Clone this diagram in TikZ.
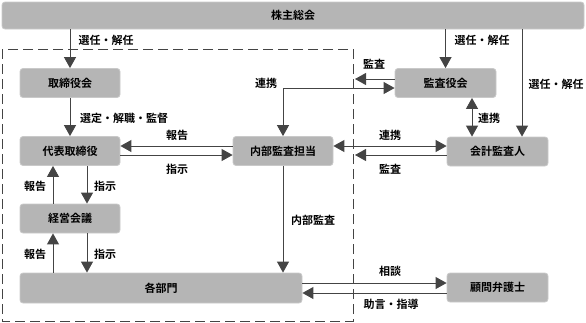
\documentclass[tikz,border=0pt]{standalone}
\usepackage{fontspec}
\setmainfont{Noto Sans CJK JP}[BoldFont={* Bold}]
\usetikzlibrary{arrows.meta}
\definecolor{boxfill}{HTML}{B5B5B5}
\definecolor{boxedge}{HTML}{C9C9C9}
\definecolor{linec}{HTML}{444444}
\tikzset{
  box/.style={draw=boxedge, fill=boxfill, rounded corners=3pt, line width=0.8pt,
    font=\bfseries\fontsize{11}{12}\selectfont, text=black, inner sep=0pt},
  lbl/.style={font=\bfseries\fontsize{11}{12}\selectfont, text=black, inner sep=0pt},
  arr/.style={draw=linec, line width=0.9pt, -{Triangle[length=11pt,width=12pt]}},
  darr/.style={draw=linec, line width=0.9pt, {Triangle[length=11pt,width=12pt]}-{Triangle[length=11pt,width=12pt]}},
  frame/.style={draw=linec, line width=0.8pt, dash pattern=on 10pt off 5pt}
}
\begin{document}
\begin{tikzpicture}[x=1pt,y=-1pt]
\useasboundingbox (0,0) rectangle (586,322);
\draw[frame] (2,49) rectangle (353,321);
\node[box, minimum width=582pt, minimum height=27pt] (top) at (293,15.5) {株主総会};
\node[box, minimum width=100pt, minimum height=29pt] (tb) at (70,83) {取締役会};
\node[box, minimum width=100pt, minimum height=29pt] (dh) at (70,151) {代表取締役};
\node[box, minimum width=100pt, minimum height=29pt] (kk) at (70,218.5) {経営会議};
\node[box, minimum width=282pt, minimum height=30pt] (bm) at (161,288) {各部門};
\node[box, minimum width=100pt, minimum height=29pt] (nb) at (283,151) {内部監査担当};
\node[box, minimum width=101pt, minimum height=29pt] (ky) at (445.5,83) {監査役会};
\node[box, minimum width=101pt, minimum height=29pt] (kj) at (497.5,151.5) {会計監査人};
\node[box, minimum width=101pt, minimum height=29pt] (kb) at (497.5,287.5) {顧問弁護士};
\coordinate (fr1) at (355,79);
\coordinate (fr2) at (355,155);
% arrows
\draw[arr] (top.south -| tb.south) -- (tb.north);
\draw[arr] (top.south -| ky.south) -- (ky.north);
\draw[arr] (top.south -| 522,0) -- (kj.north -| 522,0);
\draw[arr] (tb.south) -- (dh.north);
\draw[arr] (nb.west |- 0,146) -- (dh.east |- 0,146);
\draw[arr] (dh.east |- 0,155) -- (nb.west |- 0,155);
\draw[darr] (ky.west |- 0,88) -| (nb.north);
\draw[arr] (ky.west |- fr1) -- (fr1);
\draw[darr] (ky.south -| 472,0) -- (kj.north -| 472,0);
\draw[darr] (nb.east |- 0,146) -- (kj.west |- 0,146);
\draw[arr] (kj.west |- fr2) -- (fr2);
\draw[arr] (dh.south -| 87,0) -- (kk.north -| 87,0);
\draw[arr] (kk.north -| 53,0) -- (dh.south -| 53,0);
\draw[arr] (kk.south -| 87,0) -- (bm.north -| 87,0);
\draw[arr] (bm.north -| 53,0) -- (kk.south -| 53,0);
\draw[arr] (nb.south) -- (bm.north -| nb.south);
\draw[arr] (bm.east |- 0,283) -- (kb.west |- 0,283);
\draw[arr] (kb.west |- 0,293) -- (bm.east |- 0,293);
% labels
\node[lbl] (l1) at (106,40) {選任・解任};
\node[lbl] (l2) at (482,40) {選任・解任};
\node[lbl] (l3) at (556,84) {選任・解任};
\node[lbl] (l4) at (124,118) {選定・解職・監督};
\node[lbl] (l5) at (177,135) {報告};
\node[lbl] (l6) at (177,169) {指示};
\node[lbl] (l7) at (266,83) {連携};
\node[lbl] (l8) at (374,64) {監査};
\node[lbl] (l9) at (489,118) {連携};
\node[lbl] (l10) at (390,135) {連携};
\node[lbl] (l11) at (390,169) {監査};
\node[lbl] (l12) at (35,186) {報告};
\node[lbl] (l13) at (105,186) {指示};
\node[lbl] (l14) at (35,254) {報告};
\node[lbl] (l15) at (105,254) {指示};
\node[lbl] (l16) at (313,220) {内部監査};
\node[lbl] (l17) at (390,271) {相談};
\node[lbl] (l18) at (391,304) {助言・指導};
\end{tikzpicture}
\end{document}
